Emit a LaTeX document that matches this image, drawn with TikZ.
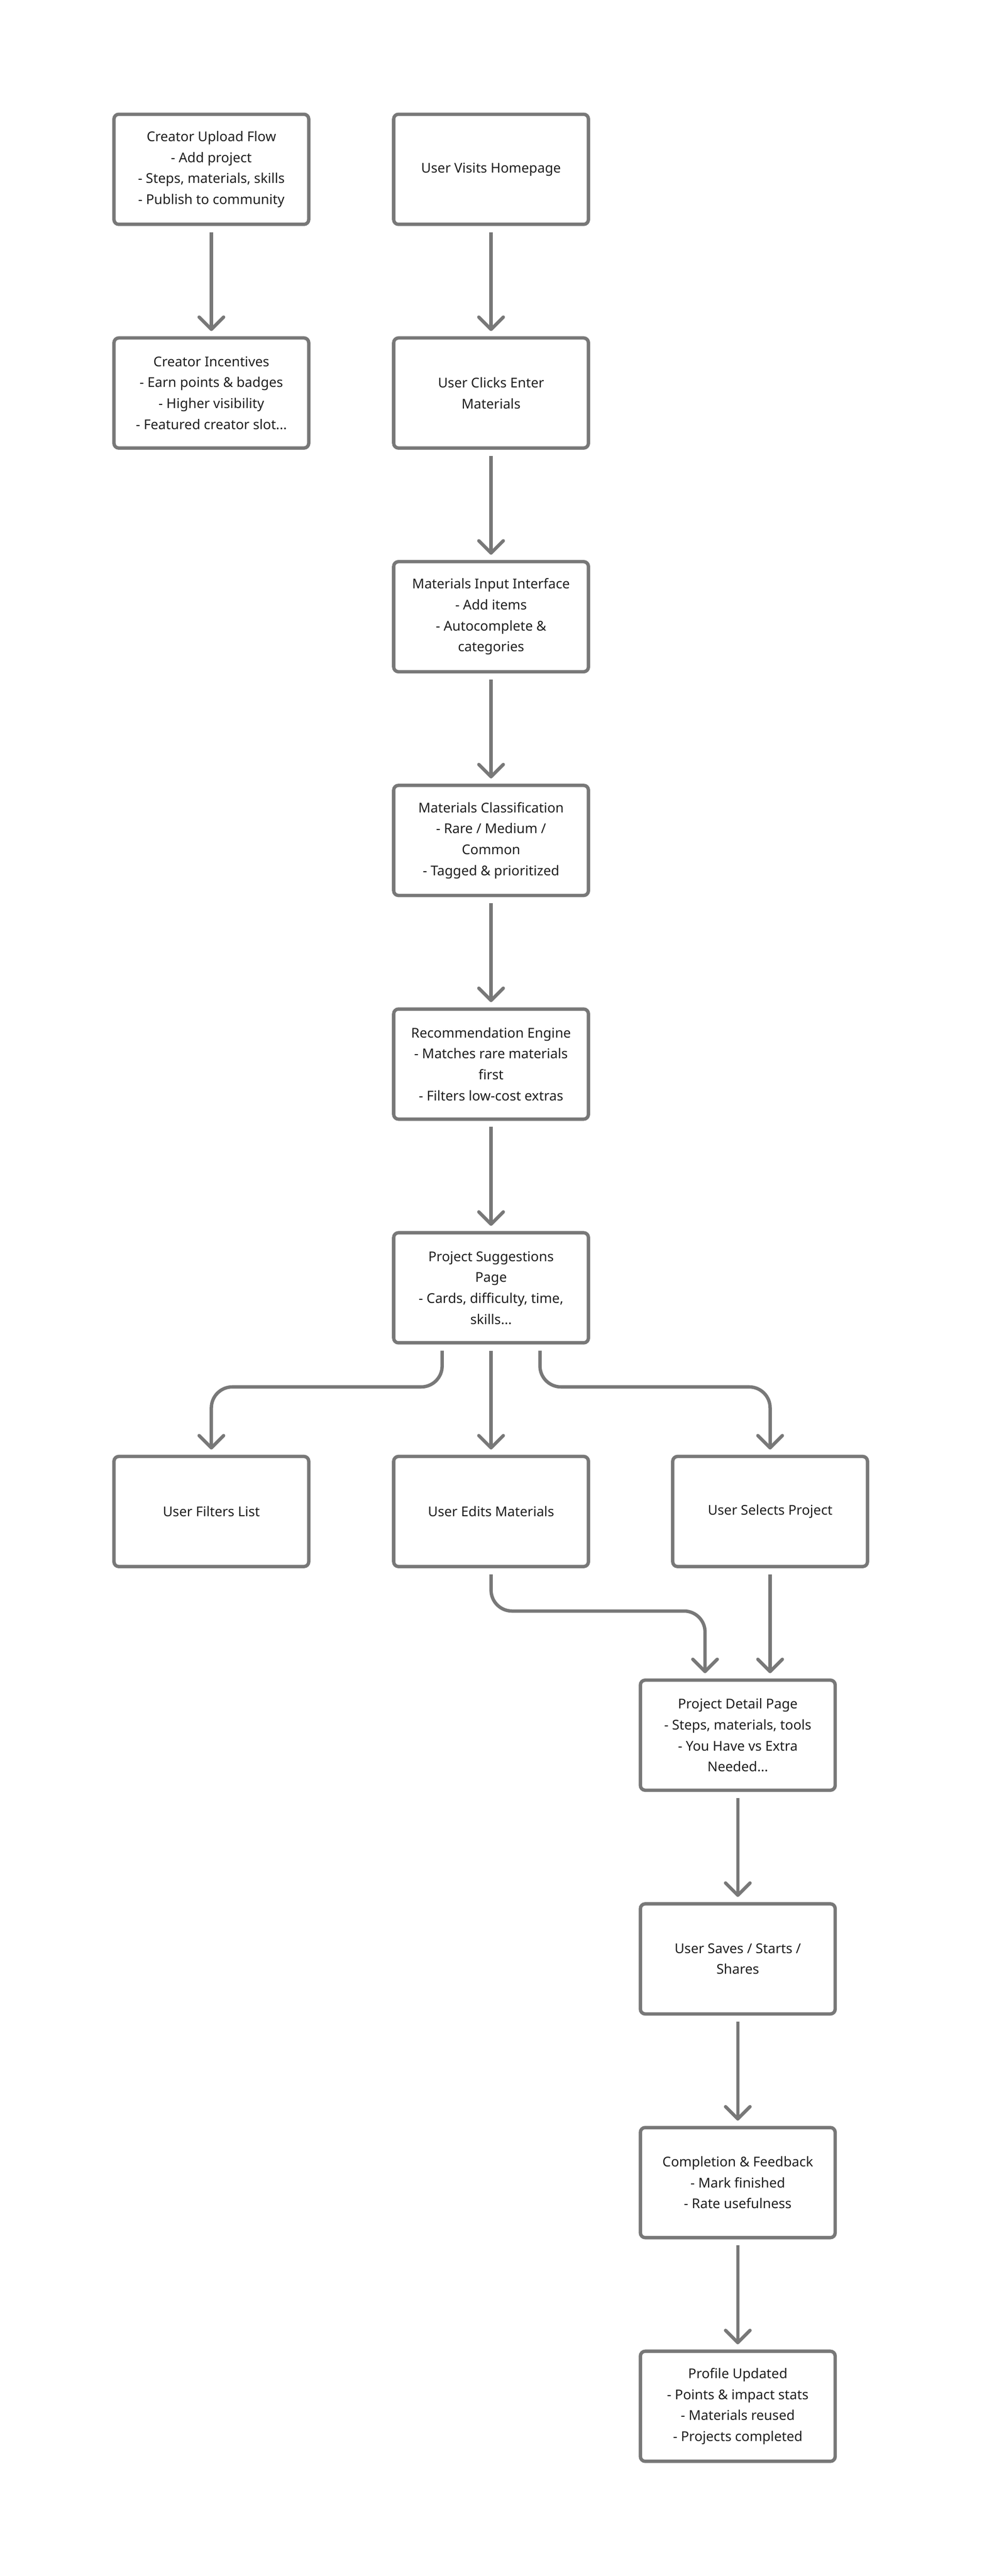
\documentclass[tikz,border=0pt]{standalone}
\usepackage{fontspec}
\setmainfont{Noto Sans}
\usetikzlibrary{arrows.meta}

\definecolor{linegray}{HTML}{787878}
\definecolor{textdark}{HTML}{1E1E1E}

\tikzset{
	box/.style={draw=linegray, line width=0.077cm, rounded corners=0.11cm, fill=white,
		minimum width=4.46cm, minimum height=2.52cm, inner sep=0pt, align=center,
		text=textdark, font=\fontsize{8.8}{13.66}\selectfont},
	flow/.style={draw=linegray, line width=0.077cm, rounded corners=0.48cm,
		-{Straight Barb[length=0.28cm, width=0.56cm, line cap=round, line join=round]},
		shorten <=0.14cm, shorten >=0.12cm}
}

\begin{document}
\begin{tikzpicture}
	\useasboundingbox[fill=white] (0,0) rectangle (22.48,-58.96);
	
	\node[box] (1) at (4.84,-3.875) {Creator Upload Flow\\- Add project\\- Steps, materials, skills\\- Publish to community};
	\node[box] (2) at (11.245,-3.875) {User Visits Homepage};
	\node[box] (3) at (4.84,-8.995) {Creator Incentives\\- Earn points \& badges\\- Higher visibility\\- Featured creator slot...};
	\node[box] (4) at (11.245,-8.995) {User Clicks Enter\\Materials};
	\node[box] (5) at (11.245,-14.115) {Materials Input Interface\\- Add items\\- Autocomplete \&\\categories};
	\node[box] (6) at (11.245,-19.235) {Materials Classification\\- Rare / Medium /\\Common\\- Tagged \& prioritized};
	\node[box] (7) at (11.245,-24.355) {Recommendation Engine\\- Matches rare materials\\first\\- Filters low-cost extras};
	\node[box] (8) at (11.245,-29.475) {Project Suggestions\\Page\\- Cards, difficulty, time,\\skills...};
	\node[box] (9) at (4.84,-34.595) {User Filters List};
	\node[box] (10) at (11.245,-34.595) {User Edits Materials};
	\node[box] (11) at (17.635,-34.595) {User Selects Project};
	\node[box] (12) at (16.895,-39.715) {Project Detail Page\\- Steps, materials, tools\\- You Have vs Extra\\Needed...};
	\node[box] (13) at (16.895,-44.835) {User Saves / Starts /\\Shares};
	\node[box] (14) at (16.895,-49.955) {Completion \& Feedback\\- Mark finished\\- Rate usefulness};
	\node[box] (15) at (16.895,-55.075) {Profile Updated\\- Points \& impact stats\\- Materials reused\\- Projects completed};
	
	\path [flow] (1) edge (3);
	\path [flow] (2) edge (4);
	\path [flow] (4) edge (5);
	\path [flow] (5) edge (6);
	\path [flow] (6) edge (7);
	\path [flow] (7) edge (8);
	\path [flow] (8) edge (10);
	\draw [flow] ([xshift=-1.12cm]8.south) -- ++(0,-0.97) -| (9.north);
	\draw [flow] ([xshift=1.12cm]8.south) -- ++(0,-0.97) -| (11.north);
	\draw [flow] (10.south) -- ++(0,-0.98) -| ([xshift=-0.75cm]12.north);
	\draw [flow] (11.south) -- (11.south |- 12.north);
	\path [flow] (12) edge (13);
	\path [flow] (13) edge (14);
	\path [flow] (14) edge (15);
\end{tikzpicture}
\end{document}
